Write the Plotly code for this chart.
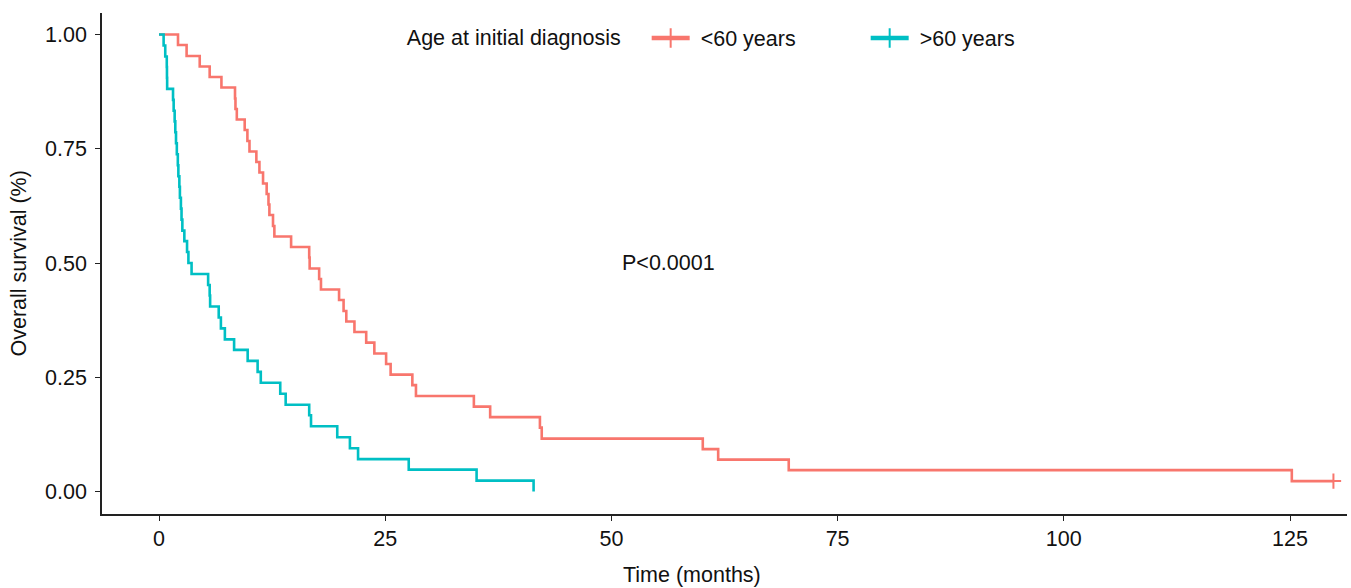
import plotly.graph_objects as go

# ---- data (Kaplan-Meier steps) ----
lt60_time = [0, 2.1, 3.05, 4.5, 5.6, 6.9, 8.4, 8.45, 8.6, 9.47, 9.77, 10.0, 10.76, 11.1,
             11.5, 11.9, 12.1, 12.2, 12.6, 12.75, 14.6, 16.6, 16.65, 17.7, 17.9, 19.9,
             20.4, 20.7, 21.6, 22.9, 23.8, 25.1, 25.6, 28.0, 28.4, 34.8, 36.6, 42.1,
             42.3, 60.1, 61.8, 69.6, 125.2, 129.8]
lt60_surv = [1.0, 0.977, 0.953, 0.930, 0.907, 0.884, 0.860, 0.837, 0.814, 0.791, 0.767,
             0.744, 0.721, 0.698, 0.674, 0.651, 0.628, 0.605, 0.581, 0.558, 0.535, 0.512,
             0.488, 0.465, 0.442, 0.419, 0.395, 0.372, 0.349, 0.326, 0.302, 0.279, 0.256,
             0.233, 0.209, 0.186, 0.163, 0.140, 0.116, 0.093, 0.070, 0.047, 0.023, 0.023]
lt60_censor_time = [129.8]
lt60_censor_surv = [0.023]

gt60_time = [0, 0.51, 0.69, 0.86, 0.88, 0.9, 1.55, 1.62, 1.73, 1.80, 1.88, 1.97, 2.08,
             2.14, 2.25, 2.31, 2.42, 2.49, 2.58, 2.8, 3.1, 3.25, 3.6, 5.43, 5.6, 5.65,
             6.6, 6.84, 7.28, 8.3, 9.8, 10.9, 11.25, 13.4, 14.0, 16.6, 16.8, 19.7, 21.1,
             22.0, 27.6, 35.1, 41.4]
gt60_surv = [1.0, 0.976, 0.952, 0.929, 0.905, 0.881, 0.857, 0.833, 0.810, 0.786, 0.762,
             0.738, 0.714, 0.690, 0.667, 0.643, 0.619, 0.595, 0.571, 0.548, 0.524, 0.500,
             0.476, 0.452, 0.429, 0.405, 0.381, 0.357, 0.333, 0.310, 0.286, 0.262, 0.238,
             0.214, 0.190, 0.167, 0.143, 0.119, 0.095, 0.071, 0.048, 0.024, 0.0]

x_ticks = [0, 25, 50, 75, 100, 125]
y_ticks = [0.0, 0.25, 0.5, 0.75, 1.0]
y_ticktext = ["0.00", "0.25", "0.50", "0.75", "1.00"]

legend_title = "Age at initial diagnosis"
group_names = ["<60 years", ">60 years"]
p_text = "P<0.0001"
x_title = "Time (months)"
y_title = "Overall survival (%)"

RED = "#F8766D"
TEAL = "#00BFC4"
FONT = "Liberation Sans, Arial, Helvetica, sans-serif"
FS = 21.5
NB = "\u00a0"

fig = go.Figure()
fig.add_trace(go.Scatter(x=lt60_time, y=lt60_surv, mode="lines", line=dict(color=RED, width=2.6, shape="hv"),
                         showlegend=False, hoverinfo="skip"))
fig.add_trace(go.Scatter(x=gt60_time, y=gt60_surv, mode="lines", line=dict(color=TEAL, width=2.6, shape="hv"),
                         showlegend=False, hoverinfo="skip"))
fig.add_trace(go.Scatter(x=lt60_censor_time, y=lt60_censor_surv, mode="markers",
                         marker=dict(symbol="cross-thin", size=11, color=RED, line=dict(color=RED, width=2)),
                         showlegend=False, hoverinfo="skip"))
# legend entries
for name, col in zip(group_names, [RED, TEAL]):
    fig.add_trace(go.Scatter(x=[None], y=[None], mode="lines+markers", name=NB + name,
                             line=dict(color=col, width=4.5),
                             marker=dict(symbol="line-ns", size=14, color=col, line=dict(color=col, width=2))))

axis_common = dict(showline=True, linecolor="#222", linewidth=1.6, ticks="outside", ticklen=5,
                   tickwidth=1.4, tickcolor="#222", showgrid=False, zeroline=False,
                   tickfont=dict(family=FONT, size=FS, color="#111"), mirror=False)

fig.update_xaxes(range=[-6.3, 131.3], tickvals=x_ticks, ticklabelstandoff=-1, **axis_common)
fig.update_yaxes(range=[-0.049, 1.047], tickvals=y_ticks, ticktext=y_ticktext, ticklabelstandoff=4, **axis_common)

ML, MR, MT, MB = 102, 4, 13, 74
pw = 1351 - ML - MR
ph = 588 - MT - MB

fig.add_annotation(x=51.0, y=0.5, xref="x", yref="y", text=p_text, showarrow=False, xanchor="left",
                   yanchor="middle", font=dict(family=FONT, size=FS, color="#111"))
fig.add_annotation(x=(691.7 - ML) / pw, y=(588 - MB - 575) / ph, xref="paper", yref="paper", text=x_title,
                   showarrow=False, xanchor="center", yanchor="middle",
                   font=dict(family=FONT, size=FS, color="#111"))
fig.add_annotation(x=(18 - ML) / pw, y=(588 - MB - 263.5) / ph, xref="paper", yref="paper", text=y_title,
                   showarrow=False, textangle=-90, xanchor="center", yanchor="middle",
                   font=dict(family=FONT, size=FS, color="#111"))

fig.update_layout(
    width=1351, height=588,
    margin=dict(l=ML, r=MR, t=MT, b=MB, autoexpand=False),
    plot_bgcolor="white", paper_bgcolor="white",
    font=dict(family=FONT, size=FS, color="#111"),
    legend=dict(orientation="h", x=(407 - 4 - ML) / pw + 0.24 - (403 - 4 - ML) / pw, y=0.991,
                xanchor="left", yanchor="top",
                title=dict(text=legend_title + NB * 3, side="left",
                           font=dict(family=FONT, size=FS, color="#111")),
                font=dict(family=FONT, size=FS, color="#111"),
                itemwidth=38, entrywidth=166, entrywidthmode="pixels",
                bgcolor="rgba(0,0,0,0)"),
)

fig.write_html("out.html", config={"displayModeBar": False},
               post_script="document.body.style.margin='0';document.body.style.overflow='hidden';")
